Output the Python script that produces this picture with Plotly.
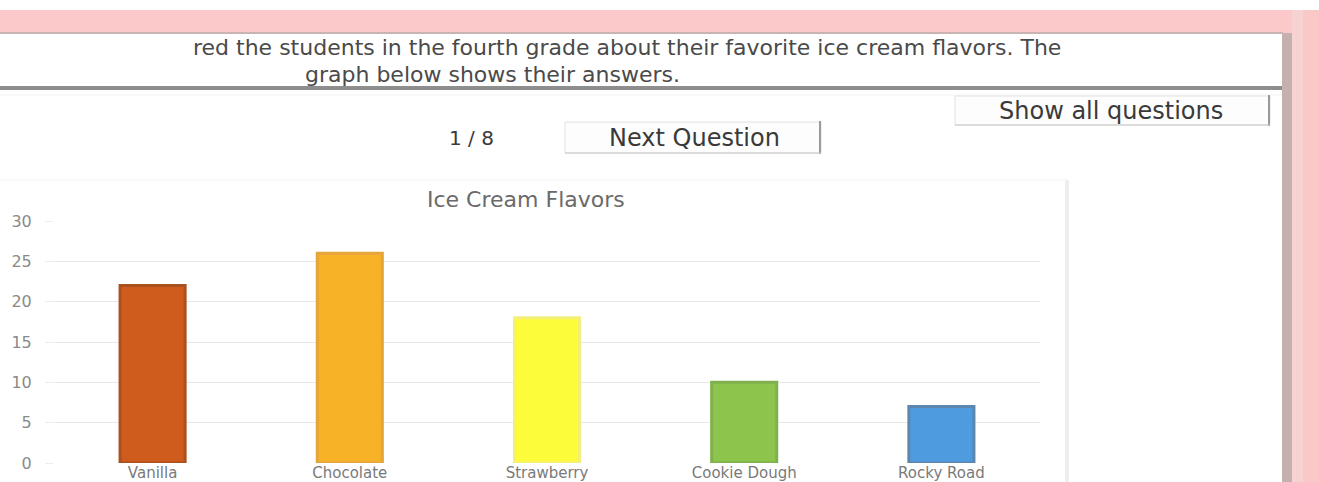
import plotly.graph_objects as go

W, H = 1319, 482

# ---- data ----
flavors = ["Vanilla", "Chocolate", "Strawberry", "Cookie Dough", "Rocky Road"]
votes = [22, 26, 18, 10, 7]
bar_colors = ["#cf5b1c", "#f8b228", "#fcfc3a", "#8dc44c", "#4f9be0"]
bar_edges = ["#a9521f", "#e3a53c", "#f3ef7a", "#80b04e", "#5b86ae"]
y_ticks = [0, 5, 10, 15, 20, 25, 30]

question_line1 = "red the students in the fourth grade about their favorite ice cream flavors. The"
question_line2 = "graph below shows their answers."
chart_title = "Ice Cream Flavors"

FONT = "DejaVu Sans"


def px(x):
    return x / W


def py(y):
    return 1 - y / H


fig = go.Figure()
fig.add_trace(go.Bar(
    x=flavors, y=votes, width=0.33,
    marker=dict(color=bar_colors, line=dict(color=bar_edges, width=3)),
    hoverinfo="x+y",
))

shapes = []


def rect(x0, y0, x1, y1, fill, line_color=None, line_width=0, layer="below"):
    shapes.append(dict(type="rect", xref="paper", yref="paper",
                       x0=px(x0), x1=px(x1), y0=py(y1), y1=py(y0),
                       fillcolor=fill, layer=layer,
                       line=dict(color=line_color or fill, width=line_width)))


def hline(x0, x1, y, color, width=1):
    shapes.append(dict(type="line", xref="paper", yref="paper",
                       x0=px(x0), x1=px(x1), y0=py(y), y1=py(y),
                       line=dict(color=color, width=width), layer="below"))


def vline(x, y0, y1, color, width=1):
    shapes.append(dict(type="line", xref="paper", yref="paper",
                       x0=px(x), x1=px(x), y0=py(y0), y1=py(y1),
                       line=dict(color=color, width=width), layer="below"))


# page background pieces
rect(0, 10, W, 33, "#fbc9c9")            # pink top band
hline(0, 1283, 33, "#c9b3b3", 2)        # line under pink band
hline(0, 1283, 88, "#8e8e8e", 4)        # textbox bottom border
hline(0, 1283, 95, "#f2f2f2", 1)
rect(1282, 33, 1292, H, "#c4b1ad")      # right gray border
rect(1292, 10, 1303, H, "#f7d2d2")
rect(1303, 10, W, H, "#fbc8c8")
vline(1067, 180, H, "#eeeeee", 4)       # chart container edge
hline(0, 1067, 180, "#f2f2f2", 1)

# buttons
rect(955, 96, 1270, 125, "#fdfdfd", "#e2e2e2", 1)
vline(1269, 95, 126, "#9a9a9a", 2)
hline(955, 1270, 125, "#c8c8c8", 1)
rect(565, 122, 821, 153, "#fdfdfd", "#e2e2e2", 1)
vline(820, 121, 154, "#9a9a9a", 2)
hline(565, 821, 153, "#c8c8c8", 1)

annotations = [
    dict(text=question_line1, x=px(627), y=py(48), size=22, color="#4a4a4a"),
    dict(text=question_line2, x=px(493), y=py(74), size=22, color="#4a4a4a"),
    dict(text="Show all questions", x=px(1111), y=py(111), size=24, color="#3a3a3a"),
    dict(text="1 / 8", x=px(471), y=py(138), size=20, color="#3a3a3a"),
    dict(text="Next Question", x=px(694), y=py(138), size=24, color="#3a3a3a"),
    dict(text=chart_title, x=px(526), y=py(199), size=22, color="#6a6a6a"),
]
ann = []
for a in annotations:
    ann.append(dict(text=a["text"], x=a["x"], y=a["y"], xref="paper", yref="paper",
                    xanchor="center", yanchor="middle", showarrow=False,
                    font=dict(family=FONT, size=a["size"], color=a["color"])))

fig.update_layout(
    width=W, height=H,
    margin=dict(l=0, r=0, t=0, b=0),
    paper_bgcolor="#ffffff",
    plot_bgcolor="rgba(0,0,0,0)",
    showlegend=False,
    shapes=shapes,
    annotations=ann,
    xaxis=dict(
        domain=[px(54), px(1040)],
        range=[-0.5, 4.5],
        showgrid=False, zeroline=False, showline=False,
        ticks="", automargin=False,
        ticklabelstandoff=-1,
        tickfont=dict(family=FONT, size=15, color="#7a7a7a"),
    ),
    yaxis=dict(
        domain=[py(463), py(221)],
        range=[0, 30],
        tickvals=y_ticks,
        ticktext=[str(v) for v in y_ticks],
        showgrid=True, gridcolor="#e8e8e8", gridwidth=1,
        zeroline=False, showline=False,
        ticks="outside", ticklen=8, tickcolor="#ececec",
        ticklabelstandoff=10, automargin=False,
        tickfont=dict(family=FONT, size=16, color="#8a8a8a"),
    ),
)

fig.write_html(
    "out.html",
    config={"displayModeBar": False},
    post_script="document.body.style.margin='0';document.body.style.overflow='hidden';",
)
